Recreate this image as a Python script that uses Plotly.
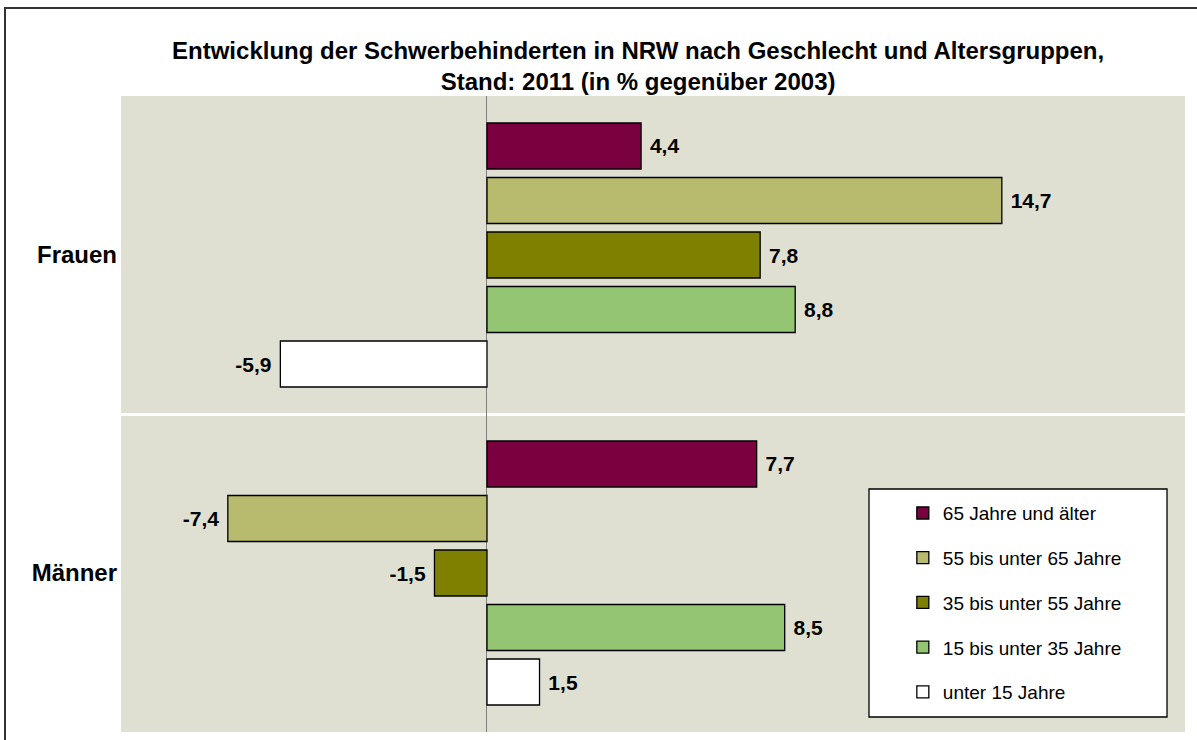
import plotly.graph_objects as go

# Entwicklung der Schwerbehinderten in NRW, 2011 ggü. 2003 (in %)
kategorien = ["Frauen", "Männer"]
gruppen = ["65 Jahre und älter", "55 bis unter 65 Jahre", "35 bis unter 55 Jahre",
           "15 bis unter 35 Jahre", "unter 15 Jahre"]
werte_65_plus = [4.4, 7.7]
werte_55_65 = [14.7, -7.4]
werte_35_55 = [7.8, -1.5]
werte_15_35 = [8.8, 8.5]
werte_unter_15 = [-5.9, 1.5]
farben = ["#7B003F", "#B8BB6E", "#7F7F00", "#93C572", "#FFFFFF"]

reihen = [werte_65_plus, werte_55_65, werte_35_55, werte_15_35, werte_unter_15]

FONT = "Arial, Liberation Sans, sans-serif"
NB = "\u00a0"


def fmt(v):
    s = f"{v:.1f}".replace(".", ",")
    return NB + s if v >= 0 else s + NB


fig = go.Figure()
for name, vals, col in zip(gruppen, reihen, farben):
    fig.add_trace(go.Bar(
        y=kategorien, x=vals, name=name, orientation="h",
        marker=dict(color=col, line=dict(color="black", width=1.3)),
        text=[fmt(v) for v in vals], textposition="outside",
        textfont=dict(family=FONT, size=21, color="black", weight="bold"),
        cliponaxis=False, legendgroup=name,
    ))

fig.update_layout(
    width=1197, height=740,
    margin=dict(l=121, r=12, t=96, b=8),
    paper_bgcolor="white", plot_bgcolor="#DFE0D2",
    barmode="group", bargap=0.143, bargroupgap=0.156,
    font=dict(family=FONT, color="black"),
    title=dict(text="<b>Entwicklung der Schwerbehinderten in NRW nach Geschlecht und Altersgruppen,<br>"
                    "Stand: 2011 (in % gegenüber 2003)</b>",
               x=0.486, xref="paper", xanchor="center",
               y=1 - 59 / 740, yanchor="middle",
               font=dict(size=24, family=FONT, color="black")),
    xaxis=dict(range=[-10.45, 19.93], showticklabels=False, showgrid=False,
               zeroline=True, zerolinecolor="#808080", zerolinewidth=1.2),
    yaxis=dict(range=[1.5, -0.5], tickson="boundaries", showgrid=True,
               gridcolor="white", gridwidth=3, ticks="", ticklabelstandoff=3,
               tickfont=dict(size=24, family=FONT, color="black", weight="bold")),
    showlegend=True,
    legend=dict(x=0.7348, y=0.374, xanchor="left", yanchor="top",
                bgcolor="rgba(0,0,0,0)", borderwidth=0,
                traceorder="grouped", tracegroupgap=17,
                font=dict(size=19, family=FONT, color="black")),
    shapes=[
        # legend frame
        dict(type="rect", xref="paper", yref="paper",
             x0=(869 - 121) / 1064, x1=(1167 - 121) / 1064,
             y0=(732 - 717) / 636, y1=(732 - 489) / 636,
             fillcolor="white", line=dict(color="black", width=1.3), layer="above"),
        # outer chart frame
        dict(type="rect", xref="paper", yref="paper",
             x0=(5 - 121) / 1064, x1=1.05, y0=-0.05, y1=(732 - 8) / 636,
             line=dict(color="#333333", width=2)),
    ],
)

# drop the browser's default 8px body margin
fig.write_html("out.html", config={"displayModeBar": False},
               post_script="document.body.style.margin='0';")
